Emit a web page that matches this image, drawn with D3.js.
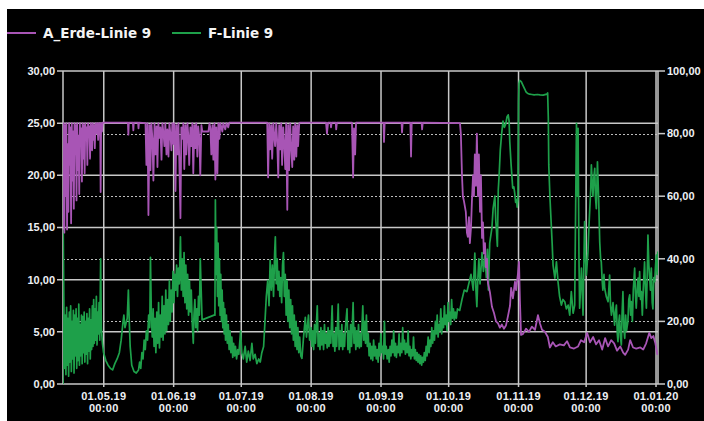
<!DOCTYPE html>
<html>
<head>
<meta charset="utf-8">
<script src="https://cdn.jsdelivr.net/npm/d3@7"></script>
<style>
  body { margin: 0; background: #fff; }
  svg { display: block; }
</style>
</head>
<body>
<div id="chart"></div>
<script>
// series names + colours
var seriesNames = ["A_Erde-Linie 9", "F-Linie 9"];
var seriesColors = ["#a855b5", "#1ea04a"];

// tick values
var leftTicks = [0, 5, 10, 15, 20, 25, 30];
var rightTicks = [0, 20, 40, 60, 80, 100];
var monthTicks = ["2019-05-01", "2019-06-01", "2019-07-01", "2019-08-01", "2019-09-01",
                  "2019-10-01", "2019-11-01", "2019-12-01", "2020-01-01"];

// time span of the recording
var startTime = Date.UTC(2019, 3, 12, 22);
var endTime = Date.UTC(2020, 0, 1, 21);

// A_Erde-Linie 9: [days since start, value] (left axis)
var erdeData = [
 [0,15.0],[0.3,25],[0.6,14.5],[0.9,24.8],[1.2,18],[1.5,25],[1.8,14.8],[2.1,23],[2.4,16.5],[2.7,25],
 [3.0,21],[3.3,24.6],[3.6,15.4],[3.9,25],[4.2,19.5],[4.5,24.2],[4.8,16.8],[5.1,25],[5.4,22],[5.7,24.8],
 [6.0,17.6],[6.3,25],[6.6,20.5],[6.9,23.8],[7.2,18.2],[7.5,25],[7.8,22.8],[8.1,24.5],[8.4,19.4],[8.7,25],
 [9.0,21.6],[9.3,24.8],[9.6,20.2],[9.9,25],[10.2,23.5],[10.5,24.6],[10.8,21],[11.1,25],[11.4,23.8],[11.7,24.7],
 [12.0,21.6],[12.3,25],[12.6,24],[12.9,22.4],[13.2,25],[13.5,23.4],[13.8,24.8],[14.1,22.6],[14.4,25],[14.7,24],
 [15.2,25],[15.6,23.4],[16.0,25],[16.5,25],[16.7,18.4],[16.9,25],[17.3,24.2],[17.6,25.05],
 [28.8,25.05],[29.0,23.9],[29.2,25.05],[31.0,25.05],[31.2,24.3],[31.4,25.05],[33.3,25.05],[33.5,24.5],[33.7,25.05],
 [36.6,25],[37.0,21],[37.5,25],[37.9,16.2],[38.4,24.8],[38.8,20.5],[39.2,25],[39.7,23.4],[40.1,19.5],[40.6,25],
 [41.0,22],[41.5,24.7],[41.9,20.8],[42.3,25],[42.8,23.6],[43.2,24.6],[43.7,21.5],[44.1,25],[44.6,24],[45.0,22.8],
 [45.4,25],[45.9,22],[46.3,24.4],[46.8,21.8],[47.2,25],[47.7,23.8],[48.1,22.4],[48.5,25],[49.0,23],[49.4,25],
 [49.9,18.5],[50.3,24.8],[50.8,22],[51.2,25],[51.6,21.4],[52.1,15.9],[52.5,24.6],[53.0,23.5],[53.4,25],[53.8,20.6],
 [54.3,24.8],[54.7,22],[55.2,25],[55.6,23.8],[56.0,21],[56.5,24.6],[56.9,22.8],[57.4,25],[57.8,20.2],[58.3,24.8],
 [58.7,22.6],[59.1,25],[59.6,21.8],[60.0,24.7],[60.5,23.5],[60.9,20],[61.4,24.8],[61.8,24.2],[64.5,24.2],[65.0,25],
 [65.4,24.5],[65.8,22],[66.3,24.8],[66.7,21.5],[67.2,25],[67.6,19.6],[68.0,24.6],[68.5,20.2],[68.9,25],[69.4,23.5],
 [69.8,25],[70.7,24.2],[71.1,25],[72.0,24.4],[72.5,25],[73.3,24.6],[73.8,25.05],
 [90.6,25.05],[91.0,19.8],[91.5,25],[91.9,22.5],[92.4,24.8],[92.8,21.6],[93.3,25],[93.7,23.8],[94.1,22.8],[94.6,25],
 [95.0,23.4],[95.5,19.8],[95.9,24.8],[96.4,22.5],[96.8,25],[97.2,21],[97.7,24.6],[98.1,23.2],[98.6,20.6],[99.0,25],
 [99.5,16.7],[99.9,24.8],[100.3,20.5],[100.8,25],[101.2,22.8],[101.7,20.8],[102.1,24.7],[102.6,21.5],[103.0,25],[103.5,21.8],
 [103.9,24.8],[104.3,22.8],[104.8,25],[105.2,25.05],
 [116.7,25.05],[117.1,24],[117.6,25.05],[118.7,25.05],[118.9,24.6],[119.2,25.05],[121.0,25.05],[121.2,24.4],[121.5,25.05],
 [128.2,25.05],[128.7,19.8],[129.1,24.5],[129.6,22],[130.0,25.05],
 [142.2,25.05],[142.4,23.2],[142.7,25.05],[150.2,25.05],[150.4,24.1],[150.7,25.05],[154.1,25.05],[154.4,21.8],[154.7,25.05],
 [159.1,25.05],[159.3,24.4],[159.6,25.05],
 [176.1,25],[176.5,24],[177.0,20],[177.4,18],[177.9,17.5],[178.7,16.5],[179.2,14.5],[179.6,14.1],[180.1,16],[180.5,13.5],
 [181.0,15],[181.4,17.5],[181.9,20],[182.3,18],[182.7,22],[183.2,19],[183.6,24],[184.1,18],[184.5,22],[185.0,16.5],
 [185.4,20],[185.9,14],[186.3,15.5],[186.7,12.5],[187.2,13.5],[187.6,11.2],[188.1,12],[188.5,9.7],[189.4,8.8],[190.3,7.4],
 [191.2,6.8],[192.1,6.0],[193.0,5.8],[193.8,5.4],[194.7,5.7],[195.6,5.3],[196.5,5.6],[197.4,6.5],[198.3,7.5],[198.8,9.2],
 [199.6,8.2],[200.5,9.8],[201.0,9.0],[201.8,10.5],[202.3,11.7],[202.7,8],[203.2,4.7],[204.1,4.8],[205.4,5.3],[206.7,5.0],
 [208.0,5.5],[209.4,5.2],[210.7,6.6],[211.6,5.8],[212.5,5.2],[213.8,5.0],[215.1,4.5],[216.0,3.5],[217.3,4.0],[218.6,3.6],
 [220.4,3.8],[222.2,3.7],[223.6,4.1],[224.9,3.5],[226.7,3.4],[228.5,3.6],[229.8,4.2],[231.2,4.0],[232.5,4.9],[233.8,4.0],
 [235.2,4.5],[236.5,3.8],[237.8,4.2],[239.2,3.3],[240.5,4.4],[241.8,3.6],[243.2,4.2],[244.5,3.9],[245.8,3.2],[247.2,3.6],
 [248.5,3.0],[249.4,2.8],[250.7,3.3],[251.6,4.2],[252.9,3.5],[254.3,3.4],[256.1,3.5],[257.4,3.3],[258.7,3.9],[260.1,4.9],
 [261.0,4.4],[261.9,4.6],[262.8,3.9],[263.7,2.8]
];

// F-Linie 9: [days since start, value] (right axis)
var fLinieData = [
 [0,0],[0.1,49],[0.4,24],[0.7,5],[1.0,22],[1.3,3],[1.6,24.5],[1.9,6],[2.2,21],[2.5,2.5],
 [2.8,23],[3.1,7],[3.4,25],[3.7,4],[4.0,20],[4.3,8],[4.6,23.5],[4.9,3.5],[5.2,22],[5.5,9],
 [5.8,24],[6.1,5],[6.4,21],[6.7,7.5],[7.0,25.5],[7.3,6],[7.6,19],[7.9,9],[8.2,22],[8.5,6.5],
 [8.8,21.5],[9.1,10],[9.4,23],[9.7,7],[10.0,20],[10.3,9.5],[10.6,22.5],[10.9,6.5],[11.2,21],[11.5,10.5],
 [11.8,24],[12.1,8],[12.4,20.5],[12.7,11],[13.0,25],[13.3,12],[13.6,27],[13.9,13],[14.2,24],[14.5,14],
 [14.8,28],[15.1,12.5],[15.4,23],[15.7,16],[16.0,26],[16.3,14],[16.7,40],[17.0,18],[17.5,13],[18.0,10],
 [19.0,7.5],[20.0,6],[21.0,5],[22.0,4.5],[23.0,6.5],[24.0,8],[25.0,10],[25.8,14],[26.5,19],[27.0,22],
 [27.5,18],[28.5,21],[29.0,30],[29.4,20],[29.8,12],[30.5,6],[31.5,4],[32.5,3.5],[33.5,4.5],[34.0,7],
 [34.5,5],[35.0,10],[35.5,8],[36.0,14],[36.5,11],[37.0,17],[37.5,14],[38.0,22],[38.5,18],[38.8,40.5],
 [39.2,22],[39.6,15],[40.0,24],[40.4,12],[40.8,21],[41.2,10],[41.6,23],[42.0,13],[42.4,26],[42.8,11.5],
 [43.2,22],[43.6,15],[44.0,28],[44.4,14],[44.8,25],[45.2,16],[45.6,30],[46.0,17],[46.4,27],[46.8,19],
 [47.2,33],[47.6,20],[48.0,30],[48.4,23],[48.8,36],[49.2,26],[49.6,35],[50.0,30],[50.4,38],[50.8,28],
 [51.2,37],[51.6,32],[52.1,47],[52.5,30],[52.9,40],[53.3,28],[53.7,42],[54.1,26],[54.5,38],[54.9,24],
 [55.3,35],[55.7,22],[56.1,33],[56.5,23],[56.9,30],[57.3,20],[57.8,13],[58.1,22],[58.5,27],[58.9,18],
 [59.3,24],[59.7,17],[60.1,28],[60.5,22],[60.9,40],[61.3,30],[61.7,20.5],[67.0,22],
 [67.4,22],[67.6,58.8],[67.9,35],[68.2,50],[68.5,28],[68.8,45],[69.1,25],[69.4,40],[69.7,22],[70.0,35],
 [70.3,20],[70.6,30],[70.9,18],[71.2,26],[71.5,16],[71.8,24],[72.1,14],[72.5,22],[72.9,13],[73.3,19],
 [73.7,11],[74.1,17],[74.5,10],[74.9,15],[75.3,8.5],[75.7,13],[76.1,9],[76.5,12],[77.0,8],[77.5,11],
 [78.0,9.5],[78.8,17],[79.3,10],[80.0,8],[80.8,12],[81.5,7],[82.2,10.5],[83.0,7.5],[83.8,13],[84.4,8],
 [85.2,9.5],[86.0,6.5],[86.8,8],[87.5,7],[88.2,10],[89.0,12],[89.6,20],[90.2,28],[90.8,33],[91.4,25],
 [91.9,39.6],[92.4,30],[92.9,38],[93.4,28],[93.9,42],[94.2,47],[94.6,32],[95.0,40],[95.4,30],[95.8,36],
 [96.2,28],[96.6,34],[97.0,26],[97.4,38],[97.8,42],[98.2,28],[98.6,35],[99.0,22],[99.4,33],[99.8,20],
 [100.2,30],[100.6,18],[101.0,27],[101.4,16],[101.8,25],[102.2,14],[102.6,22],[103.0,12],[103.4,20],[103.8,11],
 [104.2,18],[104.6,10],[105.0,15],[105.5,9],[106.0,8.2],[106.6,14],[107.5,21.3],[108.0,15],[108.9,22],[109.4,14],
 [110.0,18],[110.4,12],[110.8,17],[111.2,11],[111.6,19],[112.0,13],[112.8,25],[113.2,12],[113.6,16],[114.0,11],
 [114.4,18],[114.8,12.5],[115.2,17],[115.6,11],[116.0,19],[116.4,13],[116.8,16],[117.2,11.5],[117.6,18],[118.0,12],
 [118.4,17],[118.8,13],[119.4,25],[119.8,12],[120.2,16],[120.6,10.5],[121.0,18],[121.4,12],[122.1,25.5],[122.5,11],
 [122.9,17],[123.3,12],[123.7,19],[124.1,11],[124.5,16],[124.9,12],[125.3,18],[126.0,24],[126.4,11],[126.8,17],
 [127.2,10],[127.6,19],[128.0,12],[128.7,26],[129.1,13],[129.5,18],[129.9,11],[130.3,17],[130.7,12],[131.1,19],
 [131.5,11.5],[131.9,16],[132.3,12],[133.0,25],[133.4,14],[133.8,20],[134.2,13],[134.6,22],[135.0,12],[135.4,16],
 [135.8,9],[136.2,13],[136.6,8],[137.0,12],[137.4,7.5],[137.8,14],[138.2,9],[138.6,12],[139.0,8],[139.4,11],
 [139.8,7],[140.2,13],[140.6,9],[141.0,16],[141.4,10],[141.8,12],[142.2,8],[142.6,20],[143.0,9.5],[143.4,12],
 [143.8,8],[144.3,11],[144.7,7],[145.1,12],[145.5,9],[145.9,14],[146.3,10],[146.7,17],[147.1,9],[147.5,13],
 [147.9,8.5],[148.3,12],[148.7,10],[149.1,16],[149.5,9],[149.9,13],[150.3,10],[150.7,18],[151.1,11],[151.5,14],
 [151.9,9.5],[152.3,13],[152.7,10],[153.1,17],[153.5,9],[153.9,12],[154.3,8],[154.7,11],[155.1,9],[155.5,15],
 [155.9,8],[156.3,11],[156.7,7.5],[157.1,10],[157.5,7],[157.9,9.5],[158.3,6.5],[158.7,9],[159.1,6],[159.5,8.5],
 [159.9,7],[160.3,10],[160.7,7.5],[161.1,12],[161.5,9],[162.0,15],[162.4,10],[162.8,14],[163.2,12],[163.6,18],
 [164.0,13],[164.4,17],[164.8,14],[165.2,20],[165.6,16],[166.0,22],[166.4,15],[166.8,19],[167.2,17],[167.6,24],
 [168.0,16],[168.4,21],[168.8,18],[169.2,25],[169.6,19],[170.0,22],[170.4,17],[170.8,26],[171.2,20],[171.6,23],
 [172.0,19],[172.4,27],[172.8,21],[173.2,24],[173.6,20.5],[174.0,23],[174.5,21],[175.0,24],[176.0,23.5],[177.0,27],
 [178.0,30],[179.2,29.5],[180.0,32],[181.0,35],[182.0,30],[182.7,41.8],[183.2,30],[183.6,24.7],[184.0,33],[184.5,40],
 [185.0,32],[185.9,42],[186.5,36],[187.2,41],[187.8,34],[188.3,43],[188.7,30],[189.3,45],[190.3,50],[190.8,56],
 [191.6,60],[192.0,52],[192.3,49],[192.7,44],[193.1,62],[193.5,67],[194.0,74.8],[194.6,80],[195.2,84],[195.8,82],
 [196.4,83],[197.0,85.4],[197.5,86],[197.9,84],[198.2,77.4],[198.8,70],[199.5,62.6],[200.0,63],[200.4,61],[200.8,58],
 [201.2,59],[201.5,56.5],[201.8,59],[202.1,90],[202.3,96],[202.6,97],[203.3,96.6],[204.0,95.5],[205.0,94],[205.4,93.3],
 [206.0,92.9],[207.0,92.6],[208.0,92.5],[209.0,92.4],[210.5,92.5],[211.6,92.4],[213.0,92.3],[214.6,92.6],[215.0,93],[215.3,85],
 [215.5,70],[216.0,60],[216.4,54],[217.0,45],[217.4,38],[218.2,33.8],[218.9,39],[219.6,32.7],[220.3,28],[221.1,25.2],
 [221.8,27],[222.6,26.3],[223.3,24],[224.1,25.2],[224.8,22],[225.5,29.5],[226.3,22.6],[227.0,25.2],[227.8,83.3],[228.2,60],
 [228.5,81.7],[228.9,40],[229.2,24.2],[230.0,37],[230.7,22],[231.4,51.9],[231.8,40],[232.2,34.8],[232.9,42.3],[233.3,50],
 [233.7,56],[234.1,62],[234.4,70],[234.8,63.6],[235.1,60],[235.5,66],[235.9,68.9],[236.2,60],[236.6,56],[237.1,71],
 [237.6,60],[238.1,45.5],[238.5,40],[238.8,39],[239.2,33],[239.5,30],[240.0,35],[240.3,30.6],[241.0,28],[241.8,26.3],
 [242.2,31],[242.5,34.8],[242.9,25],[243.3,22],[244.0,26],[244.7,18.8],[245.1,23],[245.5,25.2],[245.9,16],[246.2,13.5],
 [246.6,20],[246.9,22],[247.3,15],[247.7,12.5],[248.0,22],[248.4,29.5],[248.8,18],[249.2,14.6],[249.6,22],[250.0,17],
 [250.6,19.9],[251.0,27],[251.4,28.5],[251.8,22],[252.1,26.3],[252.6,20],[253.0,30],[253.6,37],[254.0,28],[254.3,24.2],
 [254.7,30],[255.1,33.8],[255.5,28],[255.8,35.9],[256.2,27],[256.6,29.5],[257.0,22],[257.4,30],[258.0,39],[258.4,30],
 [258.8,24.2],[259.2,35],[259.5,47.6],[259.9,38],[260.2,34.8],[260.6,30],[261.0,37],[261.4,26],[261.7,24],[262.1,34],
 [262.5,32.7],[262.9,38],[263.2,41.2],[263.6,35],[263.9,42.3]
];

var width = 704, height = 421;
var margin = {top: 71, right: 46, bottom: 37, left: 63};
var plotW = width - margin.left - margin.right;   // 595
var plotH = height - margin.top - margin.bottom;  // 313

var svg = d3.select("#chart").append("svg")
    .attr("width", width)
    .attr("height", height);

// black panel
svg.append("rect")
    .attr("x", 7).attr("y", 9)
    .attr("width", width - 7).attr("height", height - 9)
    .attr("fill", "#000");

var x = d3.scaleUtc().domain([startTime, endTime]).range([0, plotW]);
var yLeft = d3.scaleLinear().domain([0, 30]).range([plotH, 0]);
var yRight = d3.scaleLinear().domain([0, 100]).range([plotH, 0]);

var fmt = function (v) { return d3.format(".2f")(v).replace(".", ","); };
var toDate = function (d) { return new Date(startTime + d * 864e5); };

var g = svg.append("g").attr("transform", "translate(" + margin.left + "," + margin.top + ")");

var months = monthTicks.map(function (s) { return new Date(s + "T00:00:00Z"); });

// dotted grid for right axis
g.append("g").selectAll("line")
    .data(rightTicks.filter(function (t) { return t > 0 && t < 100; }))
    .enter().append("line")
    .attr("x1", 0).attr("x2", plotW)
    .attr("y1", function (d) { return Math.round(yRight(d)) + 0.5; })
    .attr("y2", function (d) { return Math.round(yRight(d)) + 0.5; })
    .attr("stroke", "#bdbdbd").attr("stroke-width", 1)
    .attr("stroke-dasharray", "2,2");

// solid grid, left axis
g.append("g").selectAll("line")
    .data(leftTicks)
    .enter().append("line")
    .attr("x1", -6).attr("x2", plotW)
    .attr("y1", function (d) { return yLeft(d); })
    .attr("y2", function (d) { return yLeft(d); })
    .attr("stroke", "#c8c8c8").attr("stroke-width", 1.5);

// vertical grid at months
g.append("g").selectAll("line")
    .data(months)
    .enter().append("line")
    .attr("x1", function (d) { return x(d); }).attr("x2", function (d) { return x(d); })
    .attr("y1", 0).attr("y2", plotH + 3)
    .attr("stroke", "#c8c8c8").attr("stroke-width", 1.5);

// frame sides + right ticks
g.append("line").attr("x1", 0).attr("x2", 0).attr("y1", 0).attr("y2", plotH)
    .attr("stroke", "#c8c8c8").attr("stroke-width", 1.5);
g.append("line").attr("x1", plotW).attr("x2", plotW).attr("y1", 0).attr("y2", plotH)
    .attr("stroke", "#c8c8c8").attr("stroke-width", 1.5);
g.append("g").selectAll("line")
    .data(rightTicks)
    .enter().append("line")
    .attr("x1", plotW).attr("x2", plotW + 7)
    .attr("y1", function (d) { return yRight(d); })
    .attr("y2", function (d) { return yRight(d); })
    .attr("stroke", "#c8c8c8").attr("stroke-width", 1.5);

// lines
svg.append("clipPath").attr("id", "clip")
    .append("rect").attr("width", plotW).attr("height", plotH + 1).attr("y", -1);

var plot = g.append("g").attr("clip-path", "url(#clip)");

var lineLeft = d3.line()
    .x(function (d) { return x(toDate(d[0])); })
    .y(function (d) { return yLeft(d[1]); });
var lineRight = d3.line()
    .x(function (d) { return x(toDate(d[0])); })
    .y(function (d) { return yRight(d[1]); });

plot.append("path").datum(fLinieData)
    .attr("d", lineRight)
    .attr("fill", "none").attr("stroke", seriesColors[1]).attr("stroke-width", 1.7)
    .attr("stroke-linejoin", "round");

plot.append("path").datum(erdeData)
    .attr("d", lineLeft)
    .attr("fill", "none").attr("stroke", seriesColors[0]).attr("stroke-width", 1.8)
    .attr("stroke-linejoin", "round");

// tick labels
var labelStyle = function (sel) {
    sel.attr("fill", "#eef0f4")
       .attr("font-family", "'Liberation Sans', Arial, sans-serif")
       .attr("font-weight", "bold")
       .attr("font-size", "11px");
};

g.append("g").selectAll("text")
    .data(leftTicks)
    .enter().append("text")
    .attr("x", -8).attr("y", function (d) { return yLeft(d); })
    .attr("dy", "0.35em").attr("text-anchor", "end")
    .text(fmt).call(labelStyle);

g.append("g").selectAll("text")
    .data(rightTicks)
    .enter().append("text")
    .attr("x", plotW + 9).attr("y", function (d) { return yRight(d); })
    .attr("dy", "0.35em").attr("text-anchor", "start")
    .text(fmt).call(labelStyle);

var xl = g.append("g").selectAll("text")
    .data(months)
    .enter().append("text")
    .attr("text-anchor", "middle")
    .attr("transform", function (d) { return "translate(" + x(d) + "," + (plotH + 16) + ")"; })
    .attr("letter-spacing", "0.3px")
    .call(labelStyle);
xl.append("tspan").attr("x", 0).attr("y", 0).text(d3.utcFormat("%d.%m.%y"));
xl.append("tspan").attr("x", 0).attr("y", 12).text(d3.utcFormat("%H:%M"));

// legend
var legend = svg.append("g");
var legX = [7, 172];
seriesNames.forEach(function (name, i) {
    legend.append("line")
        .attr("x1", legX[i]).attr("x2", legX[i] + 29)
        .attr("y1", 33).attr("y2", 33)
        .attr("stroke", seriesColors[i]).attr("stroke-width", 2);
    legend.append("text")
        .attr("x", legX[i] + 36).attr("y", 38)
        .attr("fill", "#f4f4f4")
        .attr("font-family", "'DejaVu Sans', sans-serif")
        .attr("font-weight", "bold")
        .attr("font-size", "13.5px")
        .text(name);
});
</script>
</body>
</html>
